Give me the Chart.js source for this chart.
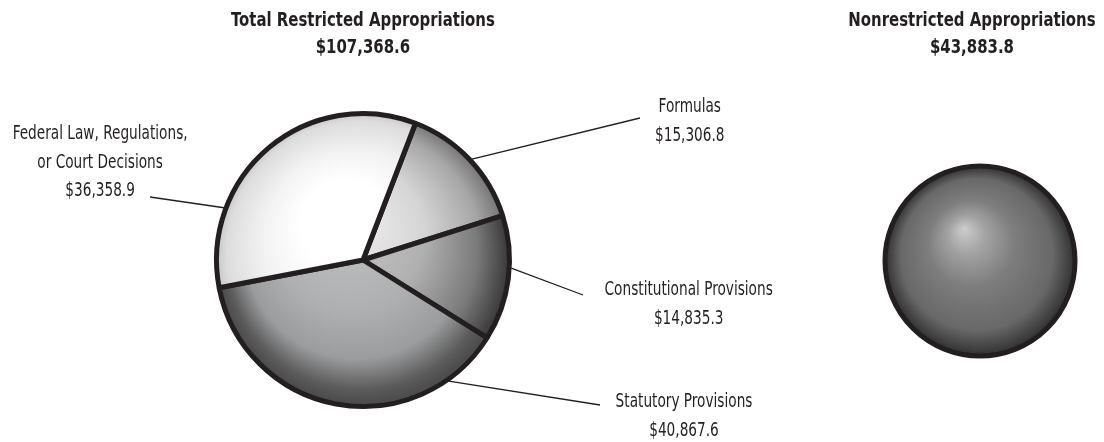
<!DOCTYPE html>
<html>
<head>
<meta charset="utf-8">
<script src="https://cdn.jsdelivr.net/npm/chart.js@4.4.1/dist/chart.umd.min.js"></script>
<style>
  body { margin: 0; background: #fff; }
  #wrap { position: relative; width: 1104px; height: 442px; overflow: hidden; }
  canvas { position: absolute; left: 0; top: 0; }
  .lbl { position: absolute; color: #231f20; font-family: "DejaVu Sans Condensed", "DejaVu Sans", sans-serif;
         font-size: 20px; line-height: 28.5px; text-align: center; white-space: nowrap;
         transform-origin: center top; }
  .ttl { font-weight: bold; line-height: 27px; }
</style>
</head>
<body>
<div id="wrap">
  <canvas id="restricted" width="1104" height="442"></canvas>
  <canvas id="nonrestricted" width="1104" height="442"></canvas>
</div>
<script>
// values in millions
var restrictedLabels = ['Formulas', 'Constitutional Provisions', 'Statutory Provisions', 'Federal Law, Regulations, or Court Decisions'];
var restrictedValues = [15306.8, 14835.3, 40867.6, 36358.9];
var restrictedTotal = 107368.6;
var nonrestrictedLabels = ['Nonrestricted Appropriations'];
var nonrestrictedValues = [43883.8];

// label text split into lines
var labelLines = [['Formulas'], ['Constitutional Provisions'], ['Statutory Provisions'], ['Federal Law, Regulations,', 'or Court Decisions']];

function money(v) {
  return '$' + v.toLocaleString('en-US', { minimumFractionDigits: 1, maximumFractionDigits: 1 });
}

// shading stops for each slice (sphere look)
var restrictedStops = [
  [[0, '#f4f4f4'], [0.5, '#d4d4d4'], [0.82, '#a6a6a6'], [1, '#707070']],
  [[0, '#cacaca'], [0.5, '#b0b0b0'], [0.8, '#7a7a7a'], [1, '#333333']],
  [[0, '#c2c3c5'], [0.5, '#afb0b2'], [0.75, '#9b9c9e'], [0.9, '#5c5c5c'], [0.97, '#4c4c4c'], [1, '#777777']],
  [[0, '#ffffff'], [0.3, '#ffffff'], [0.6, '#f2f2f2'], [0.9, '#dcdcdc'], [1, '#c0c0c0']]
];
var nonrestrictedStops = [[0, '#cdcdcd'], [0.2, '#a2a2a2'], [0.45, '#7e7e7e'], [0.8, '#686868'], [0.95, '#3e3e3e'], [1, '#303030']];

function sphere(chart, stops) {
  var a = chart.chartArea;
  if (!a) return '#999';
  var cx = (a.left + a.right) / 2, cy = (a.top + a.bottom) / 2;
  var r = Math.min(a.width, a.height) / 2;
  var g = chart.ctx.createRadialGradient(cx - 0.17 * r, cy - 0.34 * r, 0, cx, cy, r);
  stops.forEach(function (s) { g.addColorStop(s[0], s[1]); });
  return g;
}

// leader lines: angle on the rim (canvas degrees) -> end point near the label
var leaders = [
  { angle: -42.8, to: [640, 118] },
  { angle: 3.1, to: [583, 295] },
  { angle: 54.7, to: [600, 405] },
  { angle: 200.6, to: [150, 197] }
];

var leaderPlugin = {
  id: 'leaders',
  afterDatasetsDraw: function (chart) {
    var arc = chart.getDatasetMeta(0).data[0];
    var ctx = chart.ctx;
    ctx.save();
    ctx.strokeStyle = '#231f20';
    ctx.lineWidth = 1.3;
    leaders.forEach(function (l) {
      var t = l.angle * Math.PI / 180;
      ctx.beginPath();
      ctx.moveTo(arc.x + (arc.outerRadius + 2) * Math.cos(t), arc.y + (arc.outerRadius + 2) * Math.sin(t));
      ctx.lineTo(l.to[0], l.to[1]);
      ctx.stroke();
    });
    ctx.restore();
  }
};

var rimPlugin = {
  id: 'rim',
  afterDatasetsDraw: function (chart) {
    var arc = chart.getDatasetMeta(0).data[0];
    var ctx = chart.ctx;
    ctx.save();
    ctx.strokeStyle = '#231f20';
    ctx.lineWidth = 5;
    ctx.beginPath();
    ctx.arc(arc.x, arc.y, arc.outerRadius, 0, Math.PI * 2);
    ctx.stroke();
    ctx.restore();
  }
};

var baseOptions = {
  responsive: false,
  animation: false,
  events: [],
  plugins: { legend: { display: false }, tooltip: { enabled: false } }
};

var restrictedChart = new Chart(document.getElementById('restricted').getContext('2d'), {
  type: 'pie',
  data: {
    labels: restrictedLabels,
    datasets: [{
      data: restrictedValues,
      backgroundColor: function (c) { return sphere(c.chart, restrictedStops[c.dataIndex]); },
      borderColor: '#231f20',
      borderWidth: 5,
      hoverOffset: 0
    }]
  },
  options: Object.assign({}, baseOptions, {
    rotation: 21,
    layout: { padding: { left: 214, top: 111, right: 592, bottom: 33 } }
  }),
  plugins: [leaderPlugin]
});

var nonrestrictedChart = new Chart(document.getElementById('nonrestricted').getContext('2d'), {
  type: 'pie',
  data: {
    labels: nonrestrictedLabels,
    datasets: [{
      data: nonrestrictedValues,
      backgroundColor: function (c) { return sphere(c.chart, nonrestrictedStops); },
      borderWidth: 0,
      hoverOffset: 0
    }]
  },
  options: Object.assign({}, baseOptions, {
    layout: { padding: { left: 885, top: 166, right: 29, bottom: 86 } }
  }),
  plugins: [rimPlugin]
});

// text blocks: centre x, top y
var wrap = document.getElementById('wrap');
function addText(lines, cx, top, cls, scale) {
  var d = document.createElement('div');
  d.className = 'lbl' + (cls ? ' ' + cls : '');
  d.innerHTML = lines.join('<br>');
  wrap.appendChild(d);
  var w = d.offsetWidth;
  d.style.left = (cx - w / 2) + 'px';
  d.style.top = top + 'px';
  d.style.transform = 'scaleX(' + scale + ')';
}

addText(['Total Restricted Appropriations', money(restrictedTotal)], 363, 6, 'ttl', 0.83);
addText([nonrestrictedLabels[0], money(nonrestrictedValues[0])], 972, 6, 'ttl', 0.83);

var labelPos = [[690, 91], [688, 274], [684, 386], [100, 118]];
restrictedValues.forEach(function (v, i) {
  addText(labelLines[i].concat([money(v)]), labelPos[i][0], labelPos[i][1], '', 0.76);
});
</script>
</body>
</html>
